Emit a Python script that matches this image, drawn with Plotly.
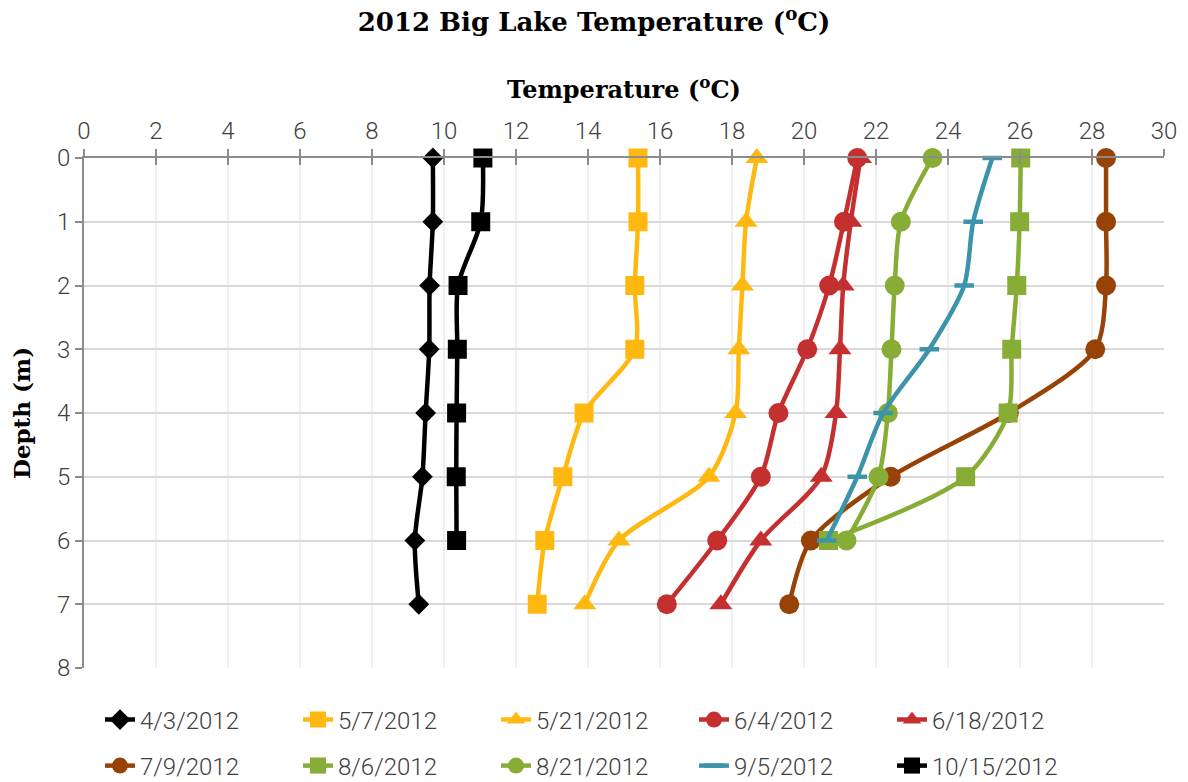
import plotly.graph_objects as go

depths = [0, 1, 2, 3, 4, 5, 6, 7]

d_0403 = [9.69, 9.69, 9.60, 9.59, 9.49, 9.40, 9.19, 9.30]
d_0507 = [15.39, 15.39, 15.30, 15.30, 13.89, 13.30, 12.80, 12.59]
d_0521 = [18.69, 18.39, 18.29, 18.19, 18.10, 17.36, 14.86, 13.91]
d_0604 = [21.48, 21.11, 20.70, 20.09, 19.29, 18.80, 17.59, 16.19]
d_0618 = [21.57, 21.30, 21.09, 21.00, 20.89, 20.48, 18.80, 17.69]
d_0709 = [28.39, 28.39, 28.39, 28.09, 25.69, 22.41, 20.19, 19.59]
d_0806 = [26.02, 25.99, 25.91, 25.77, 25.67, 24.49, 20.68]
d_0821 = [23.57, 22.69, 22.52, 22.43, 22.33, 22.07, 21.18]
d_0905 = [25.23, 24.70, 24.45, 23.48, 22.20, 21.48, 20.63]
d_1015 = [11.08, 11.02, 10.39, 10.37, 10.35, 10.34, 10.35]

x_ticks = list(range(0, 31, 2))
y_ticks = list(range(0, 9))

BLACK = "#000000"
GOLD = "#FFB80F"
RED = "#C3302F"
BROWN = "#974307"
GREEN = "#87AD36"
TEAL = "#3C94AA"

series = [
    ("4/3/2012", d_0403, BLACK, "diamond", 16, "legend"),
    ("5/7/2012", d_0507, GOLD, "square", 19, "legend"),
    ("5/21/2012", d_0521, GOLD, "triangle-up", 20, "legend"),
    ("6/4/2012", d_0604, RED, "circle", 20, "legend"),
    ("6/18/2012", d_0618, RED, "triangle-up", 20, "legend"),
    ("7/9/2012", d_0709, BROWN, "circle", 20, "legend2"),
    ("8/6/2012", d_0806, GREEN, "square", 19, "legend2"),
    ("8/21/2012", d_0821, GREEN, "circle", 20, "legend2"),
    ("9/5/2012", d_0905, TEAL, "line-ew", 14, "legend2"),
    ("10/15/2012", d_1015, BLACK, "square", 19, "legend2"),
]

TICKFONT = dict(family="Roboto, Lato, sans-serif", size=24, color="#404040", weight=300)
SERIF = "DejaVu Serif, Liberation Serif, serif"

fig = go.Figure()
for name, vals, color, sym, size, leg in series:
    marker = dict(symbol=sym, size=size, color=color)
    if sym == "line-ew":
        marker["line"] = dict(color=color, width=4.5)
    fig.add_trace(go.Scatter(
        x=vals, y=depths[:len(vals)], name=name, mode="lines+markers",
        line=dict(color=color, width=4.5, shape="spline", smoothing=0.8),
        marker=marker, legend=leg, cliponaxis=False,
    ))

# helper trace on overlay axis for inward tick marks
fig.add_trace(go.Scatter(x=[None], y=[None], xaxis="x2", showlegend=False, hoverinfo="skip"))

LEG_X = (100 - 84) / 1080

fig.update_layout(
    width=1188, height=782,
    margin=dict(l=84, r=24, t=158, b=114, autoexpand=False),
    paper_bgcolor="white", plot_bgcolor="white",
    title=dict(text="<b>2012 Big Lake Temperature (<sup>o</sup>C)</b>",
               x=0.5, xref="container", xanchor="center",
               y=1 - 22 / 782, yref="container", yanchor="middle",
               font=dict(family=SERIF, size=26, color="black")),
    xaxis=dict(side="top", range=[0, 30], tickvals=x_ticks, ticktext=[str(v) for v in x_ticks],
               showgrid=True, gridcolor="#EFEFEF", gridwidth=1.5,
               showline=True, linecolor="#8C8C8C", linewidth=2,
               ticks="outside", ticklen=7, tickwidth=1.5, tickcolor="#8C8C8C",
               tickfont=TICKFONT, zeroline=False,
               title=dict(text="<b>Temperature (<sup>o</sup>C)</b>", standoff=12,
                          font=dict(family=SERIF, size=24, color="black"))),
    xaxis2=dict(overlaying="x", side="top", range=[0, 30], tickvals=x_ticks,
                showticklabels=False, showgrid=False, showline=False, zeroline=False,
                ticks="inside", ticklen=7, tickwidth=1.5, tickcolor="#8C8C8C"),
    yaxis=dict(range=[8, 0], tickvals=y_ticks, ticktext=[str(v) for v in y_ticks],
               showgrid=True, gridcolor="#D9D9D9", gridwidth=2,
               showline=True, linecolor="#8C8C8C", linewidth=2,
               ticks="outside", ticklen=7, tickwidth=1.5, tickcolor="#8C8C8C",
               tickfont=TICKFONT, zeroline=False,
               title=dict(text="<b>Depth (m)</b>", standoff=20,
                          font=dict(family=SERIF, size=23, color="black"))),
    legend=dict(orientation="h", x=LEG_X, xanchor="left",
                y=-(720 - 668) / 510, yanchor="middle",
                entrywidth=153, entrywidthmode="pixels",
                font=TICKFONT, bgcolor="rgba(0,0,0,0)"),
    legend2=dict(orientation="h", x=LEG_X, xanchor="left",
                 y=-(766 - 668) / 510, yanchor="middle",
                 entrywidth=153, entrywidthmode="pixels",
                 font=TICKFONT, bgcolor="rgba(0,0,0,0)"),
)

fig.write_html("out.html")
